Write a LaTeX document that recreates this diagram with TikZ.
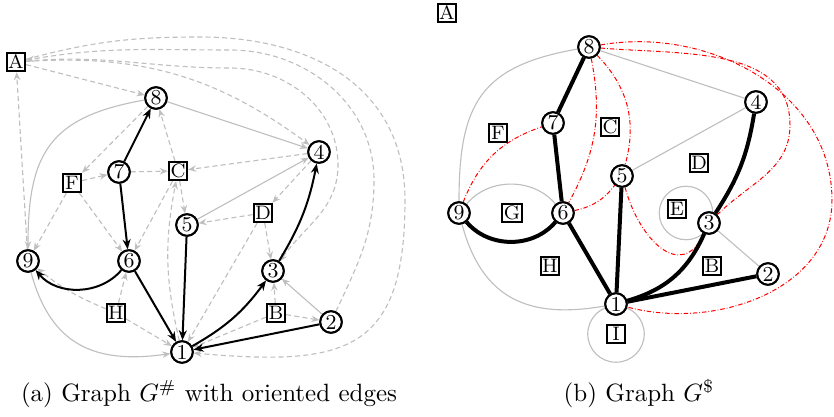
\documentclass[tikz,border=0pt]{standalone}
\usetikzlibrary{arrows.meta}
\begin{document}
\begin{tikzpicture}[x=0.4pt,y=-0.4pt,
  vtx/.style={circle,draw,line width=0.8pt,fill=white,minimum size=8.6pt,inner sep=0.4pt,font=\fontsize{8.5pt}{10pt}\selectfont},
  facebox/.style={rectangle,draw,line width=0.75pt,fill=white,minimum size=7.4pt,inner sep=0.6pt,font=\fontsize{7.8pt}{9pt}\selectfont},
  gedge/.style={draw=black!25,line width=0.45pt},
  garr/.style={gedge,-{Stealth[length=3.2pt,width=2.6pt]}},
  gdash/.style={garr,dash pattern=on 2pt off 1.3pt},
  barr/.style={line width=0.8pt,-{Stealth[length=4pt,width=3.2pt]}},
  treeedge/.style={line width=1.6pt},
  reddd/.style={draw=red,line width=0.4pt,dash pattern=on 1.8pt off 0.8pt on 0.3pt off 0.8pt}
]
\useasboundingbox (0,0) rectangle (834,417);

% ---------------- left graph ----------------
\node[facebox] (lA) at (16,62) {A};
\node[facebox] (lF) at (72,183) {F};
\node[facebox] (lC) at (178,171) {C};
\node[facebox] (lD) at (263,213) {D};
\node[facebox] (lH) at (116,313) {H};
\node[facebox] (lB) at (276,313) {B};
\node[vtx] (l8) at (156,98) {8};
\node[vtx] (l4) at (319,152) {4};
\node[vtx] (l7) at (119,172) {7};
\node[vtx] (l5) at (187,225) {5};
\node[vtx] (l9) at (28,261) {9};
\node[vtx] (l6) at (129,261) {6};
\node[vtx] (l3) at (273,271) {3};
\node[vtx] (l2) at (331,322) {2};
\node[vtx] (l1) at (182,352) {1};

% dashed dual edges
\draw[gdash] (lA) -- (l8);
\draw[gdash] (l9) -- (lA);
\draw[gdash] (lA) to[bend left=20] (l4);
\draw[gdash] (lA) to[out=5,in=180] (230,68) to[out=0,in=90] (338,165) to[out=-90,in=55] (l3);
\draw[gdash] (l2) to[out=65,in=-90] (374,180) to[out=90,in=0] (230,50) to[out=180,in=10] (lA);
\draw[gdash] (lA) to[out=15,in=180] (200,37) to[out=0,in=90,looseness=1.1] (405,200) to[out=-90,in=-5,looseness=1.5] (l1);
\draw[gdash] (l8) -- (lF);
\draw[gdash] (lF) -- (l7);
\draw[gdash] (l7) -- (lC);
\draw[gdash] (lC) -- (l8);
\draw[gdash] (l4) -- (lC);
\draw[gdash] (lF) -- (l9);
\draw[gdash] (lF) -- (l6);
\draw[gdash] (lC) -- (l6);
\draw[gdash] (lC) -- (l5);
\draw[gdash] (l1) to[bend left=12] (lC);
\draw[gdash] (l4) -- (lD);
\draw[gdash] (lD) -- (l5);
\draw[gdash] (lD) -- (l3);
\draw[gdash] (lD) -- (l1);
\draw[gdash] (lH) -- (l6);
\draw[gdash] (lH) to[bend left=8] (l9);
\draw[gdash] (lH) -- (l1);
\draw[gdash] (lB) -- (l3);
\draw[gdash] (lB) -- (l2);
\draw[gdash] (lB) -- (l1);
% gray solid edges
\draw[garr] (l8) -- (l4);
\draw[garr] (l8) to[out=190,in=90,looseness=1.3] (l9);
\draw[garr] (l9) to[out=-75,in=188,looseness=1.2] (l1);
\draw[garr] (l5) -- (l4);
\draw[garr] (l2) -- (l3);
% black tree edges
\draw[barr] (l7) -- (l8);
\draw[barr] (l7) -- (l6);
\draw[barr] (l6) to[bend left=50] (l9);
\draw[barr] (l6) -- (l1);
\draw[barr] (l5) -- (l1);
\draw[barr] (l1) to[bend right=12] (l3);
\draw[barr] (l3) to[bend right=10] (l4);
\draw[barr] (l2) -- (l1);

% ---------------- right graph ----------------
\coordinate (cE) at (686,213);
\coordinate (cI) at (616,334);
\draw[gedge] (cE) circle[radius=10.7pt];
\draw[gedge] (cI) circle[radius=11.3pt];

\node[facebox] (rA) at (447,13) {A};
\node[facebox] (rF) at (498,133) {F};
\node[facebox] (rC) at (610,127) {C};
\node[facebox] (rD) at (699,163) {D};
\node[facebox] (rG) at (512,213) {G};
\node[facebox] (rE) at (677,209) {E};
\node[facebox] (rH) at (550,266) {H};
\node[facebox] (rB) at (712,266) {B};
\node[facebox] (rI) at (616,334) {I};
\node[vtx] (r8) at (589,47) {8};
\node[vtx] (r4) at (756,102) {4};
\node[vtx] (r7) at (553,123) {7};
\node[vtx] (r5) at (622,176) {5};
\node[vtx] (r9) at (459,213) {9};
\node[vtx] (r6) at (563,213) {6};
\node[vtx] (r3) at (709,223) {3};
\node[vtx] (r2) at (768,274) {2};
\node[vtx] (r1) at (616,304) {1};

\draw[gedge] (r8) to[out=190,in=90,looseness=1.3] (r9);
\draw[gedge] (r8) -- (r4);
\draw[gedge] (r5) -- (r4);
\draw[gedge] (r3) -- (r2);
\draw[gedge] (r9) to[out=-75,in=190,looseness=1.2] (r1);
\draw[gedge] (r9) to[bend left=50] (r6);

\draw[reddd] (r9) to[bend left=25] (r7);
\draw[reddd] (r8) to[bend left=20] (r6);
\draw[reddd] (r8) to[bend left=30] (r5);
\draw[reddd] (r6) to[bend right=20] (r5);
\draw[reddd] (r5) to[out=-75,in=-115,looseness=1.5] (r3);
\draw[reddd] (r8) to[out=-5,in=90] (790,125) to[out=-90,in=45] (r3);
\draw[reddd] (r8) to[out=10,in=90] (832,200) to[out=-90,in=-15] (r1);

\draw[treeedge] (r8) -- (r7);
\draw[treeedge] (r7) -- (r6);
\draw[treeedge] (r9) to[bend right=50] (r6);
\draw[treeedge] (r6) -- (r1);
\draw[treeedge] (r5) -- (r1);
\draw[treeedge] (r1) to[bend right=25] (r3);
\draw[treeedge] (r3) to[bend right=12] (r4);
\draw[treeedge] (r1) -- (r2);

% redraw nodes on top of the connectors
\foreach \n/\t in {r8/8,r4/4,r7/7,r5/5,r9/9,r6/6,r3/3,r2/2,r1/1}{\node[vtx] at (\n) {\t};}
\foreach \n/\t in {l8/8,l4/4,l7/7,l5/5,l9/9,l6/6,l3/3,l2/2,l1/1}{\node[vtx] at (\n) {\t};}
\foreach \n/\t in {lA/A,lF/F,lC/C,lD/D,lH/H,lB/B}{\node[facebox] at (\n) {\t};}

% captions
\node[anchor=base] (capa) at (209,402) {(a) Graph $G^{\#}$ with oriented edges};
\node[anchor=base] (capb) at (639,402) {(b) Graph $G^{\$}$};
\end{tikzpicture}
\end{document}
